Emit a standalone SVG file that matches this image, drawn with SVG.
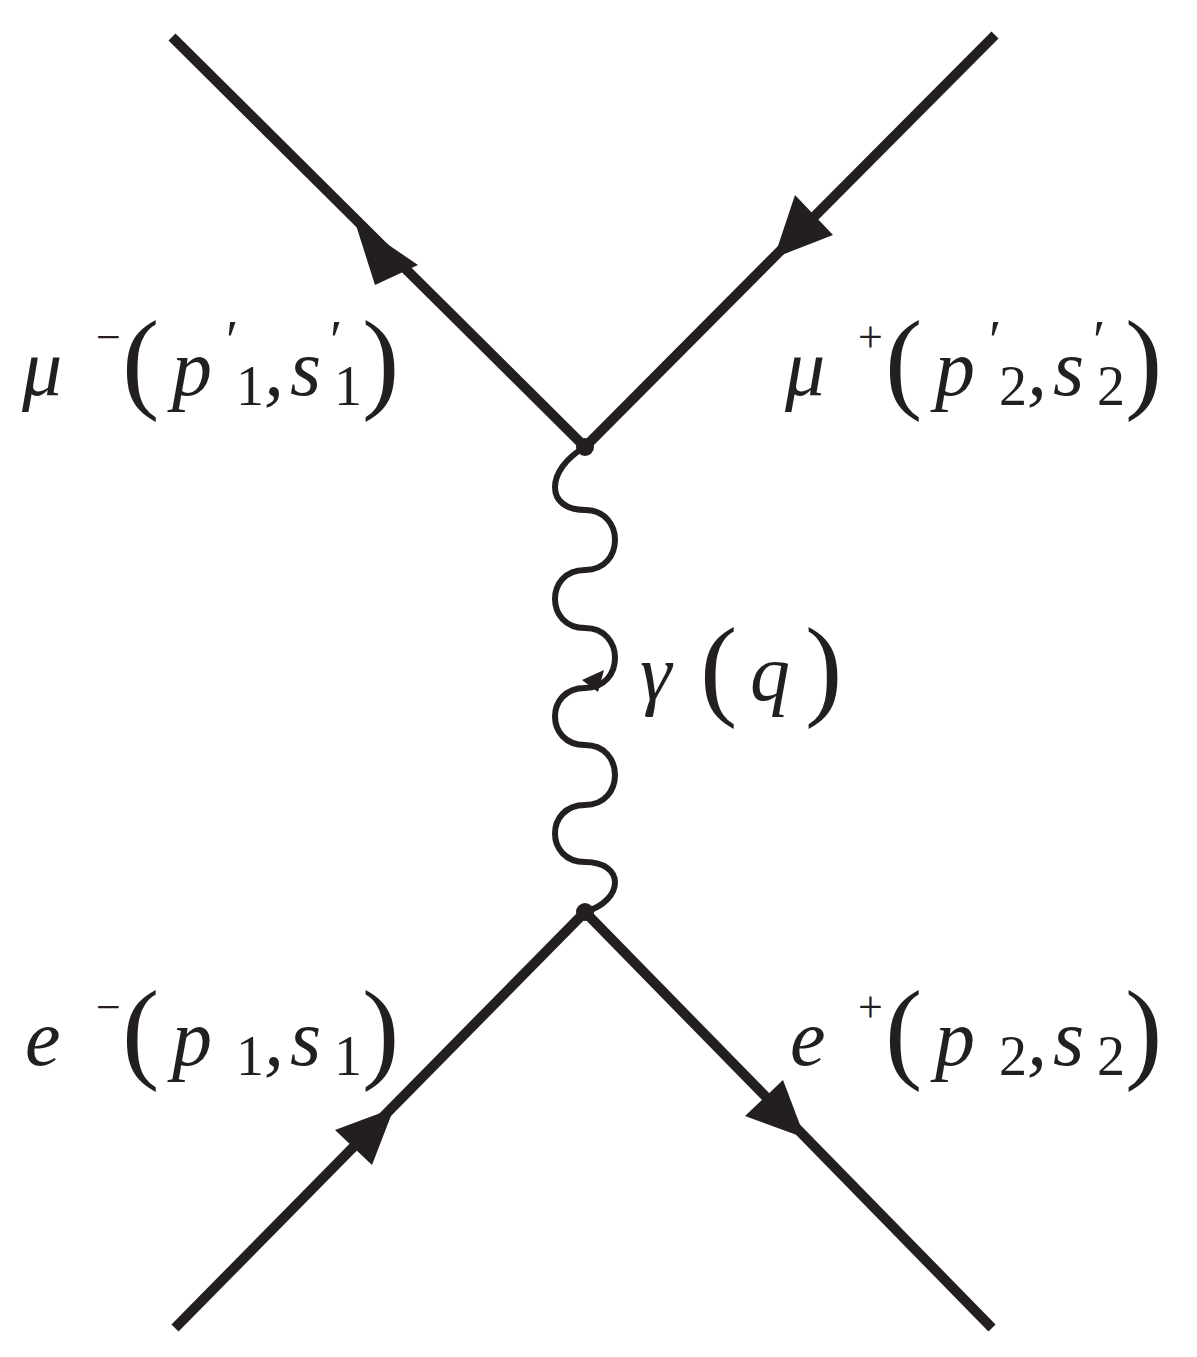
<svg xmlns="http://www.w3.org/2000/svg" width="1197" height="1357" viewBox="0 0 1197 1357">
<style>
.f{stroke:#231f20;stroke-width:10;fill:none}
.w{stroke:#231f20;stroke-width:6;fill:none}
.a{fill:#231f20}
text{font-family:"Liberation Serif","Times New Roman",serif;fill:#231f20}
.i{font-style:italic;font-size:80px}
.s{font-size:44px}
.p{font-size:112px}
.n{font-size:56px}
</style>
<rect width="1197" height="1357" fill="#fff"/>
<g id="connectors">
<path class="f" d="M172 37L585 447"/>
<path class="f" d="M995 35L585 447"/>
<path class="f" d="M585 912L175 1328"/>
<path class="f" d="M585 912L992 1328"/>
<path class="w" d="M585 447 C545 470 545 510 585 510 C625 510 625 570 585 570 C545 570 545 628 585 628 C625 628 625 688 585 688 C545 688 545 745 585 745 C625 745 625 805 585 805 C545 805 545 862 585 862 C625 862 625 900 585 912"/>
<polygon class="a" points="355,222 418,265 375,285"/>
<polygon class="a" points="833,235 774,258 795,195"/>
<polygon class="a" points="394,1108 372,1165 335,1130"/>
<polygon class="a" points="805,1138 745,1116 783,1080"/>
<polygon class="a" points="604,670 598,692 582,680"/>
<circle class="a" cx="585" cy="447" r="9"/>
<circle class="a" cx="585" cy="912" r="9"/>
</g>
<g id="mu-minus">
<text class="i" x="22" y="395">μ</text><text class="s" x="96" y="352">−</text>
<text class="p" x="122" y="398">(</text><text class="i" x="172" y="395">p</text>
<text class="n" x="226" y="360">′</text><text class="n" x="236" y="405">1</text>
<text class="i" x="264" y="395">,</text><text class="i" x="290" y="395">s</text>
<text class="n" x="330" y="360">′</text><text class="n" x="334" y="405">1</text>
<text class="p" x="362" y="398">)</text>
</g>
<g id="mu-plus">
<text class="i" x="785" y="395">μ</text><text class="s" x="858" y="352">+</text>
<text class="p" x="885" y="398">(</text><text class="i" x="935" y="395">p</text>
<text class="n" x="989" y="360">′</text><text class="n" x="999" y="405">2</text>
<text class="i" x="1027" y="395">,</text><text class="i" x="1053" y="395">s</text>
<text class="n" x="1093" y="360">′</text><text class="n" x="1097" y="405">2</text>
<text class="p" x="1125" y="398">)</text>
</g>
<g id="gamma">
<text class="i" x="640" y="700">γ</text><text class="p" x="700" y="705">(</text>
<text class="i" x="750" y="700">q</text><text class="p" x="805" y="705">)</text>
</g>
<g id="e-minus">
<text class="i" x="25" y="1065">e</text><text class="s" x="96" y="1022">−</text>
<text class="p" x="122" y="1068">(</text><text class="i" x="172" y="1065">p</text>
<text class="n" x="236" y="1075">1</text>
<text class="i" x="264" y="1065">,</text><text class="i" x="290" y="1065">s</text>
<text class="n" x="334" y="1075">1</text>
<text class="p" x="362" y="1068">)</text>
</g>
<g id="e-plus">
<text class="i" x="790" y="1065">e</text><text class="s" x="858" y="1022">+</text>
<text class="p" x="885" y="1068">(</text><text class="i" x="935" y="1065">p</text>
<text class="n" x="999" y="1075">2</text>
<text class="i" x="1027" y="1065">,</text><text class="i" x="1053" y="1065">s</text>
<text class="n" x="1097" y="1075">2</text>
<text class="p" x="1125" y="1068">)</text>
</g>
</svg>
